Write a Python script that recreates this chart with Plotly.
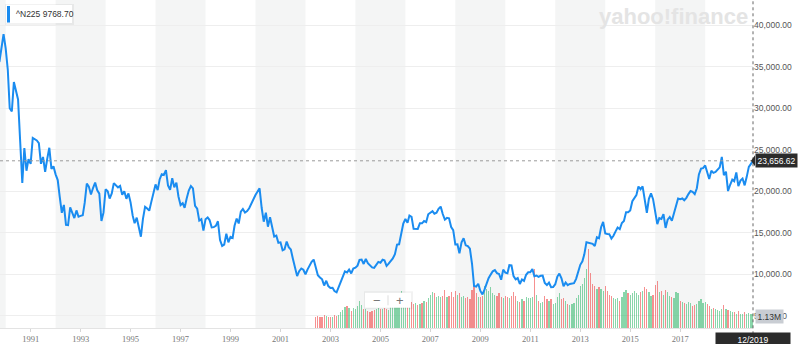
import plotly.graph_objects as go
import pandas as pd

# ---------------- data ----------------
price_start = "1989-10-01"
price_values = [
    # 1989 Oct-Dec
    35549, 37269, 38916,
    # 1990
    37189, 34592, 29980, 29585, 33131, 31940, 31036, 25978, 20984, 25194, 22455, 23849,
    # 1991
    23293, 26409, 26292, 26111, 25790, 23291, 24121, 22336, 23916, 25222, 22687, 22984,
    # 1992
    22023, 21339, 19346, 17391, 18348, 15952, 15910, 18061, 17399, 16768, 17684, 16925,
    # 1993
    17024, 17098, 18591, 20919, 20552, 19591, 20380, 21027, 20106, 19703, 16408, 17417,
    # 1994
    20229, 19997, 19112, 19725, 20974, 20644, 20449, 20629, 19564, 19990, 19076, 19723,
    # 1995
    18650, 17053, 16140, 16807, 15437, 14517, 16678, 18117, 17913, 17655, 18744, 19868,
    # 1996
    20813, 20125, 21407, 22041, 21956, 22531, 20693, 20167, 21556, 20467, 21020, 19361,
    # 1997
    18330, 18557, 18003, 19151, 20069, 20605, 20331, 18229, 17888, 16459, 16637, 15259,
    # 1998
    16628, 16832, 16527, 15641, 15671, 15830, 16379, 14108, 13406, 13564, 14884, 13842,
    # 1999
    14499, 14368, 15837, 16702, 16112, 17530, 17862, 17437, 17606, 17943, 18558, 18934,
    # 2000
    19540, 19960, 20337, 17974, 16332, 17411, 15728, 16861, 15747, 14540, 14649, 13786,
    # 2001
    13844, 12884, 12999, 13934, 13262, 12969, 11861, 10714, 9775, 10367, 10697, 10543,
    # 2002
    9998, 10588, 11025, 11493, 11764, 10622, 9878, 9619, 9383, 8640, 9216, 8579,
    # 2003
    8340, 8363, 7973, 7831, 8425, 9083, 9563, 10344, 10219, 10560, 10101, 10677,
    # 2004
    10784, 11042, 11715, 11762, 11236, 11859, 11326, 11082, 10824, 10771, 11073, 11489,
    # 2005
    11388, 11741, 11669, 11009, 11277, 11584, 11900, 12414, 13574, 13607, 14872, 16111,
    # 2006
    16650, 16206, 17060, 16907, 15467, 15505, 15457, 16141, 16128, 16399, 16274, 17226,
    # 2007
    17383, 17604, 17288, 17400, 17876, 18138, 17249, 16569, 16786, 16738, 15681, 15308,
    # 2008
    13593, 13604, 12526, 13850, 14339, 13482, 13377, 13073, 11260, 8577, 8512, 8860,
    # 2009
    7994, 7568, 8110, 8828, 9523, 9958, 10357, 10493, 10133, 10035, 9346, 10546,
    # 2010
    10198, 10126, 11090, 11057, 9769, 9383, 9537, 8824, 9369, 9202, 9937, 10229,
    # 2011
    10237, 10624, 9755, 9850, 9694, 9816, 9833, 8955, 8700, 8988, 8435, 8455,
    # 2012
    8803, 9723, 10084, 9521, 8543, 9007, 8695, 8840, 8870, 8928, 9446, 10395,
    # 2013
    11139, 11559, 12398, 13861, 13775, 13677, 13668, 13389, 14456, 14328, 15662, 16291,
    # 2014
    14915, 14841, 14828, 14304, 14632, 15162, 15621, 15425, 16174, 16414, 17460, 17451,
    # 2015
    17674, 18798, 19207, 19520, 20563, 20236, 20585, 18890, 17388, 19083, 19747, 19034,
    # 2016
    17518, 16027, 16759, 16666, 17235, 15576, 16569, 16887, 16450, 17425, 18308, 19114,
    # 2017
    19041, 19119, 18909, 19197, 19651, 20033, 19925, 19646, 20356, 22012, 22725, 22765,
    # 2018
    23098, 22068, 21454, 22468, 22202, 22305, 22554, 22865, 24120, 21920, 22351, 20015,
    # 2019
    20773, 21385, 21206, 22259, 20601, 21276, 21522, 20704, 21756, 22927, 23294, 23656.62,
]

volume_start = "2002-06-01"
volume_millions = [
    # 2002 Jun-Dec
    0.95, 1.0, 0.9, 0.95, 1.05, 1.0, 0.95,
    # 2003
    0.95, 0.9, 1.05, 1.0, 1.1, 1.3, 1.5, 1.75, 1.8, 1.65, 1.45, 1.7,
    # 2004
    1.6, 1.85, 2.3, 1.9, 1.6, 1.55, 1.4, 1.3, 1.45, 1.5, 1.6, 1.7,
    # 2005
    1.6, 1.55, 1.7, 1.6, 1.5, 1.8, 1.85, 2.1, 2.6, 2.8, 3.1, 2.7,
    # 2006
    2.9, 2.3, 2.1, 2.2, 2.0, 2.1, 1.9, 2.0, 2.1, 2.3, 2.2, 2.5,
    # 2007
    2.8, 3.0, 2.9, 2.6, 2.7, 2.6, 2.7, 3.2, 2.6, 2.7, 3.0, 2.6,
    # 2008
    3.1, 2.8, 2.9, 2.6, 2.7, 2.5, 2.6, 2.4, 3.2, 3.6, 2.9, 2.6,
    # 2009
    2.6, 2.7, 3.5, 3.3, 3.1, 3.4, 2.9, 2.8, 2.7, 2.9, 2.6, 2.5,
    # 2010
    2.7, 2.6, 2.5, 2.7, 3.0, 2.7, 2.3, 2.2, 2.4, 2.3, 2.6, 2.5,
    # 2011
    2.5, 2.6, 4.9, 2.8, 2.3, 2.1, 2.2, 2.7, 2.4, 2.3, 2.4, 2.0,
    # 2012
    2.1, 2.6, 2.9, 2.4, 2.5, 2.3, 2.0, 1.9, 2.0, 2.1, 2.5, 2.8,
    # 2013
    3.5, 3.7, 4.2, 4.9, 6.6, 4.6, 3.7, 3.5, 3.3, 3.4, 3.3, 3.1,
    # 2014
    3.5, 3.1, 2.8, 2.7, 2.5, 2.4, 2.5, 2.3, 2.6, 3.0, 3.2, 2.9,
    # 2015
    2.8, 2.9, 3.1, 2.9, 2.8, 3.0, 3.1, 3.4, 3.3, 3.0, 2.7, 2.8,
    # 2016
    3.6, 3.9, 3.0, 3.1, 2.8, 3.2, 3.0, 2.7, 2.6, 2.5, 3.0, 2.9,
    # 2017
    2.3, 2.2, 2.1, 2.0, 2.2, 2.1, 1.8, 1.9, 2.0, 2.3, 2.4, 2.1,
    # 2018
    2.2, 2.0, 1.8, 1.6, 1.7, 1.6, 1.5, 1.4, 1.6, 1.9, 1.6, 1.5,
    # 2019
    1.4, 1.3, 1.35, 1.2, 1.4, 1.2, 1.15, 1.3, 1.2, 1.25, 1.15, 1.13,
]

price_ticks = [5000, 10000, 15000, 20000, 25000, 30000, 35000, 40000]
x_tick_years = [1991, 1993, 1995, 1997, 1999, 2001, 2003, 2005, 2007, 2009,
                2011, 2013, 2015, 2017]
band_start_years = [1988, 1992, 1996, 2000, 2004, 2008, 2012, 2016]
legend_label = "^N225 9768.70"
last_price = 23656.62
last_volume_label = "1.13M"
last_date_label = "12/2019"
watermark = "yahoo!finance"

# ---------------- derived ----------------
dates = pd.date_range(price_start, periods=len(price_values), freq="MS")
vdates = pd.date_range(volume_start, periods=len(volume_millions), freq="MS")
price_by_date = dict(zip(dates, price_values))
vol_colors = []
for d in vdates:
    prev = d - pd.DateOffset(months=1)
    up = price_by_date[d] >= price_by_date[prev]
    vol_colors.append("rgba(40,180,100,0.55)" if up else "rgba(240,70,70,0.6)")

PW, PH = 753.0, 327.7  # plot area size in px


def px(x):
    return x / PW


def py(y):
    return 1 - y / PH


BLUE = "#1a8cf0"

fig = go.Figure()
fig.add_trace(go.Bar(
    x=vdates, y=[v * 1e6 for v in volume_millions],
    marker=dict(color=vol_colors, line=dict(width=0)),
    width=18 * 24 * 3600 * 1000, yaxis="y", hoverinfo="skip", showlegend=False,
))
fig.add_trace(go.Scatter(
    x=dates, y=price_values, mode="lines", yaxis="y2",
    line=dict(color=BLUE, width=2), showlegend=False,
))

shapes = []
for y0 in band_start_years:
    shapes.append(dict(type="rect", xref="x", yref="paper",
                       x0=f"{y0}-01-01", x1=f"{y0 + 2}-01-01", y0=0, y1=1,
                       fillcolor="#f4f5f5", line=dict(width=0), layer="below"))
# crosshair lines
shapes.append(dict(type="line", xref="paper", yref="y2", x0=0, x1=1,
                   y0=last_price, y1=last_price,
                   line=dict(color="#9a9a9a", width=1, dash="dot")))
shapes.append(dict(type="line", xref="paper", yref="paper", x0=1, x1=1,
                   y0=py(334), y1=1, line=dict(color="#666", width=1, dash="dot")))
# legend box
shapes.append(dict(type="rect", xref="paper", yref="paper",
                   x0=px(5), x1=px(74), y0=py(25), y1=py(4),
                   fillcolor="rgba(0,0,0,0.05)", line=dict(width=0)))
shapes.append(dict(type="rect", xref="paper", yref="paper",
                   x0=px(6), x1=px(72), y0=py(23), y1=py(5),
                   fillcolor="white", line=dict(width=0)))
shapes.append(dict(type="rect", xref="paper", yref="paper",
                   x0=px(7), x1=px(10), y0=py(22.5), y1=py(6),
                   fillcolor=BLUE, line=dict(width=0)))
# zoom buttons box
shapes.append(dict(type="rect", xref="paper", yref="paper",
                   x0=px(364), x1=px(413), y0=py(309), y1=py(291),
                   fillcolor="rgba(0,0,0,0.05)", line=dict(width=0)))
shapes.append(dict(type="rect", xref="paper", yref="paper",
                   x0=px(365), x1=px(411), y0=py(307.5), y1=py(292.5),
                   fillcolor="white", line=dict(width=0)))
shapes.append(dict(type="line", xref="paper", yref="paper",
                   x0=px(388), x1=px(388), y0=py(305), y1=py(295),
                   line=dict(color="#ddd", width=1)))
# pointer of price label
shapes.append(dict(type="path", xref="paper", yref="paper",
                   path=f"M {px(751)},{py(160.5)} L {px(755)},{py(155)} L {px(755)},{py(166)} Z",
                   fillcolor="#2b2b2b", line=dict(width=0)))

annotations = [
    dict(text=legend_label, xref="paper", yref="paper", x=px(14), y=py(14),
         xanchor="left", yanchor="middle", showarrow=False,
         font=dict(family="Liberation Sans, Arial", size=8.5, color="#333")),
    dict(text=f"<b>{watermark}</b>", xref="paper", yref="paper", x=px(673), y=py(16.5),
         xanchor="center", yanchor="middle", showarrow=False,
         font=dict(family="Liberation Sans, Arial", size=22, color="#e4e4e4")),
    dict(text=f"{last_price:,.2f}", xref="paper", yref="y2", x=px(755), y=last_price,
         xanchor="left", yanchor="middle", showarrow=False, bgcolor="#2b2b2b",
         borderpad=1.5,
         font=dict(family="Liberation Sans, Arial", size=8.5, color="white")),
    dict(text=last_volume_label, xref="paper", yref="paper", x=px(755), y=py(316),
         xanchor="left", yanchor="middle", showarrow=False, bgcolor="#c9cdd3",
         borderpad=1.5,
         font=dict(family="Liberation Sans, Arial", size=8.5, color="#333")),
    dict(text=last_date_label, xref="paper", yref="paper", x=1, y=py(339.5),
         xanchor="center", yanchor="middle", showarrow=False, bgcolor="#2b2b2b",
         borderpad=2, width=70,
         font=dict(family="Liberation Sans, Arial", size=8.5, color="white")),
    dict(text="−", xref="paper", yref="paper", x=px(376.5), y=py(300),
         xanchor="center", yanchor="middle", showarrow=False,
         font=dict(family="Liberation Sans, Arial", size=13, color="#777")),
    dict(text="+", xref="paper", yref="paper", x=px(399.5), y=py(300),
         xanchor="center", yanchor="middle", showarrow=False,
         font=dict(family="Liberation Sans, Arial", size=13, color="#777")),
]

fig.update_layout(
    width=800, height=344,
    margin=dict(l=0, r=47, t=0, b=16.3, pad=0),
    paper_bgcolor="white", plot_bgcolor="white",
    showlegend=False, bargap=0,
    xaxis=dict(
        type="date", range=["1989-10-10", "2019-12-01"],
        tickvals=[f"{y}-01-01" for y in x_tick_years],
        ticktext=[str(y) for y in x_tick_years],
        tickfont=dict(family="Liberation Serif, Times New Roman", size=8.5, color="#777"),
        showgrid=False, zeroline=False, showline=True, linecolor="#e3e3e3", linewidth=1,
        ticks="outside", ticklen=3, tickcolor="#d5d5d5", automargin=False,
    ),
    yaxis=dict(range=[0, PH * 0.0837e6], visible=False, showgrid=False, fixedrange=True),
    yaxis2=dict(
        overlaying="y", side="right", anchor="x",
        range=[3530, 43012],
        tickvals=price_ticks, ticktext=[f"{v:,.2f}" for v in price_ticks],
        tickfont=dict(family="Liberation Sans, Arial", size=8.5, color="#555"),
        showgrid=True, gridcolor="#eeeeee", gridwidth=1,
        zeroline=False, showline=False, ticks="", automargin=False,
    ),
    shapes=shapes,
    annotations=annotations,
)

fig.write_html("out.html")
